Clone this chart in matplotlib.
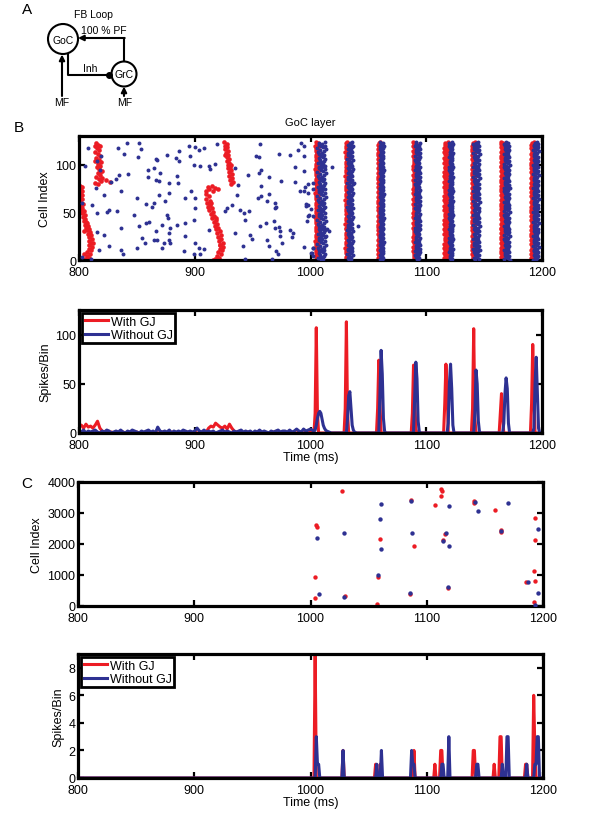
import numpy as np
import matplotlib.pyplot as plt
import matplotlib.patches as mp

plt.rcParams['font.family'] = ['Liberation Sans', 'DejaVu Sans']

RED = '#ec1c24'
BLUE = '#2e3192'

# ---------------- panel B raster : GoC layer ----------------
# with GJ (red) travelling waves before 1000 ms
b_red_t = [800.5, 802.5, 801.0, 803.0, 800.8, 802.2, 800.5, 802.8, 801.0, 803.5, 801.5, 803.0,
           802.0, 804.5, 802.5, 805.0, 803.5, 805.5, 804.0, 806.5, 805.0, 807.5, 806.0, 808.5,
           807.0, 809.5, 808.0, 810.5, 809.0, 811.0, 808.5, 810.5, 809.0, 811.5, 808.5, 810.5,
           807.0, 809.5, 806.5, 808.5, 805.5, 807.5, 804.0, 806.0, 803.0, 812.0, 804.5,
           814.5, 816.5, 813.5, 815.5, 817.5, 814.0, 816.0, 818.0, 815.0, 817.0, 819.0, 816.0,
           818.5, 815.5, 817.5, 819.5, 816.0, 818.0, 815.0, 817.0, 819.0, 813.5, 816.0, 823.0,
           827.0, 820.0, 818.0, 814.0, 818.5,
           911.5, 914.5, 917.5, 920.0, 912.5, 910.0, 915.5, 909.5, 912.0, 910.0, 913.0, 910.5,
           913.5, 911.5, 914.5, 912.5, 915.5, 914.0, 916.5, 915.0, 918.0, 916.5, 919.0, 917.5,
           920.0, 918.5, 921.5, 919.5, 922.5, 920.5, 923.0, 921.0, 924.0, 921.5, 924.5, 922.0,
           923.5, 920.5, 922.5, 919.0, 921.0, 917.5, 919.5, 916.0, 918.0, 914.0, 922.0,
           925.5, 927.5, 926.0, 928.0, 926.5, 928.5, 927.0, 929.0, 927.5, 929.5, 928.0, 930.0,
           928.5, 930.5, 929.0, 931.0, 929.5, 932.0, 930.0, 932.5, 930.5, 933.0, 931.0, 926.5,
           931.5]
b_red_c = [78, 77, 74, 72, 70, 68, 66, 64, 61, 59, 57, 55,
           53, 51, 49, 47, 45, 43, 41, 39, 37, 36, 34, 33,
           31, 29, 27, 26, 24, 22, 20, 18, 16, 14, 12, 10,
           8, 6, 4, 2, 1, 0, 30, 40, 50, 18, 6,
           123, 121, 119, 117, 115, 113, 111, 109, 107, 105, 103, 101,
           99, 97, 95, 93, 91, 89, 87, 85, 83, 81, 80, 84,
           82, 86, 120, 104, 92,
           77, 78, 76, 74, 74, 72, 72, 69, 67, 64, 62, 60,
           58, 56, 54, 52, 50, 48, 46, 44, 42, 40, 38, 36,
           34, 32, 30, 28, 26, 24, 22, 20, 18, 16, 14, 12,
           10, 8, 6, 4, 2, 1, 0, 0, 44, 60, 16,
           124, 122, 120, 118, 116, 114, 112, 110, 108, 106, 104, 102,
           100, 98, 96, 94, 92, 90, 88, 86, 84, 82, 80, 110,
           100]

# without GJ (blue) asynchronous spikes
b_blue_t = [808.1, 833.6, 841.7, 851.7, 853.2, 838.8, 850.9, 866.1, 805.2, 818.7, 815.3, 817.9,
            827.9, 834.5, 842.3, 831.6, 859.5, 865.2, 859.8, 835.9, 814.4, 821.6, 811.6, 850.3,
            858.3, 864.6, 863.2, 825.9, 823.9, 832.5, 815.9, 847.4, 802.9, 835.9, 851.7, 857.5,
            860.9, 815.9, 821.6, 854.6, 856.6, 864.6, 817.3, 825.9, 835.9, 838.2, 850.3, 802.4,
            810.1,
            867.5, 876.1, 886.2, 894.8, 900.0, 907.7, 903.4, 886.2, 896.2, 883.9, 899.1, 904.8,
            912.0, 917.8, 919.2, 913.5, 870.4, 869.0, 884.8, 885.6, 877.6, 866.1, 897.1, 877.6,
            869.0, 891.9, 900.5, 874.7, 900.5, 926.4, 927.8, 876.1, 877.0, 871.8, 891.9, 884.8,
            879.0, 899.1, 912.0, 877.6, 891.4, 877.6, 873.3, 879.0, 867.5, 900.5, 907.7, 903.4,
            871.8, 890.5, 899.1, 904.8, 935.0, 935.0, 936.4, 932.1, 866.1,
            956.6, 952.9, 955.8, 972.4, 982.5, 989.6, 994.0, 994.0, 957.5, 955.2, 946.0, 963.8,
            974.4, 986.2, 994.5, 986.8, 937.4, 957.5, 995.4, 1002.5, 954.6, 957.5, 963.8,
            991.1, 998.2, 962.4, 969.5, 970.4, 969.0, 996.0, 998.2, 939.4, 942.3, 947.2, 943.7,
            968.1, 956.6, 961.5, 998.2, 996.8, 1002.5, 948.0, 949.5, 969.0, 972.4, 973.8,
            982.5, 985.3, 983.9, 962.4, 973.3, 975.3, 941.4, 963.8, 970.1, 971.8, 966.7, 994.8,
            1002.5, 1001.1, 1002.5, 943.7,
            1018.4, 1014.4, 1015.6, 1013.0, 1041.0, 1038.0, 992.0, 994.8, 997.7, 1002.0, 996.0,
            999.0, 1000.6, 1002.0, 1000.6]
b_blue_c = [117.6, 116.9, 122.8, 122.8, 116.5, 111.6, 108.1, 106.0, 99.0, 108.8, 103.5, 94.8,
            81.5, 88.9, 89.9, 85.0, 94.1, 96.5, 87.1, 72.8, 75.5, 67.8, 58.0, 65.1,
            59.1, 59.8, 55.6, 52.1, 50.4, 51.4, 49.3, 47.6, 59.8, 33.6, 35.3, 38.8,
            39.5, 29.0, 26.6, 23.1, 17.8, 21.3, 10.8, 14.3, 10.1, 6.6, 12.6, 3.1,
            1.0,
            105.3, 110.5, 114.0, 120.0, 118.6, 117.5, 115.1, 103.5, 108.8, 107.1, 99.4, 98.3,
            98.3, 100.7, 121.1, 95.5, 91.3, 82.6, 87.8, 80.8, 80.8, 84.3, 72.1, 70.3,
            68.6, 65.1, 65.1, 61.6, 54.6, 51.1, 54.6, 47.6, 44.1, 37.1, 38.8, 37.1,
            33.6, 42.3, 31.8, 28.3, 24.8, 21.3, 17.8, 17.8, 20.6, 17.8, 11.9, 12.6,
            12.6, 9.1, 6.6, 6.6, 28.3, 96.5, 68.6, 58.0, 30.0,
            121.8, 108.8, 107.8, 111.6, 110.6, 115.8, 119.3, 109.5, 94.8, 91.3, 89.6, 86.8,
            82.6, 97.1, 93.0, 81.5, 79.1, 78.0, 76.6, 80.8, 65.1, 66.8, 69.6,
            72.1, 70.3, 61.6, 59.8, 55.6, 54.6, 58.7, 58.0, 52.8, 49.3, 51.1, 42.3,
            40.6, 35.3, 38.8, 45.8, 41.3, 46.5, 26.6, 22.0, 33.6, 34.3, 30.0,
            31.8, 28.3, 24.1, 21.3, 24.8, 17.8, 14.3, 14.3, 9.1, 6.6, 1.0, 13.6,
            12.6, 7.3, 3.8, 1.0,
            97.0, 33.0, 30.5, 25.0, 36.0, 81.0, 123.0, 72.6, 79.6, 74.0, 57.0,
            47.0, 53.0, 13.0, 7.7]

# synchronous volleys after 1000 ms: centre time and half spread (ms)
red_band_t = [1005.5, 1031.6, 1059.4, 1090.0, 1117.0, 1140.7, 1165.7, 1191.7]
red_band_w = [1.3, 1.4, 1.3, 1.5, 1.8, 1.3, 1.5, 1.5]
blue_band_t = [1009.5, 1034.2, 1061.4, 1092.4, 1121.3, 1143.2, 1169.5, 1194.6]
blue_band_w = [3.6, 2.4, 1.7, 2.4, 1.7, 2.9, 2.5, 2.4]
band_jitter = [0.1, -0.6, 0.8, -0.2, 0.4, -0.9, 0.0, 0.6, -0.4, 0.9, -0.7, 0.3, -0.1,
               0.7, -0.5, 0.2, -0.8, 0.5, -0.3, 1.0, -1.0, 0.4, -0.2, 0.8, -0.6]
n_goc = 125

# ---------------- panel B histogram ----------------
noise_t = np.arange(800, 1001, 2)
b_red_noise = [7, 8, 5, 9, 6, 7, 5, 8, 12, 5, 2,
               1, 2, 0, 1, 0, 1, 0, 0, 1, 0, 0, 1, 0, 0, 1, 0, 0, 0, 1, 0,
               0, 0, 1, 0, 0, 1, 0, 0, 0, 1, 0, 0, 1, 0, 0, 0, 1, 0, 0, 1,
               0, 0, 1, 0, 1,
               5, 7, 6, 10, 8, 6, 5, 7, 4, 9, 5, 2, 1,
               0, 1, 0, 0, 1, 0, 0, 0, 1, 0, 0, 1, 0, 0, 0, 1, 0, 0, 0, 1,
               0, 0, 1, 0, 0, 0, 1, 0, 0, 1, 0, 1]
b_blue_noise = [2, 1, 3, 0, 2, 1, 2, 3, 1, 0, 2, 1, 3, 2, 0, 1, 2, 1, 3, 1,
                0, 2, 1, 3, 2, 1, 0, 2, 1, 2, 3, 1, 2, 0, 6, 2, 1, 2, 1, 3,
                0, 2, 1, 2, 1, 3, 2, 1, 2, 1, 2, 5, 2, 1, 3, 1, 2, 1, 2, 0,
                1, 2, 3, 1, 2, 1, 0, 2, 1, 2, 3, 1, 2, 1, 2, 0, 2, 1, 3, 1,
                2, 1, 0, 2, 1, 2, 3, 1, 2, 2, 1, 3, 1, 2, 4, 2, 1, 4, 2, 3, 4]
b_red_pk_t = [1003, 1004, 1005, 1006, 1007, 1029, 1030, 1031, 1032, 1033,
              1057, 1058, 1059, 1060, 1061, 1087, 1088, 1089, 1090, 1091, 1092,
              1115, 1116, 1117, 1118, 1119, 1139, 1140, 1141, 1142, 1143,
              1163, 1164, 1165, 1166, 1167, 1190, 1191, 1192, 1193, 1194, 1200]
b_red_pk_n = [0, 20, 107, 20, 0, 0, 25, 113, 20, 0,
              0, 25, 74, 30, 0, 0, 20, 69, 35, 4, 0,
              0, 30, 70, 45, 0, 0, 25, 106, 15, 0,
              0, 20, 40, 15, 0, 0, 30, 90, 40, 0, 0]
b_blue_pk_t = [1003, 1004, 1005, 1006, 1007, 1008, 1009, 1010, 1011, 1012, 1013, 1014, 1016, 1018,
               1031, 1032, 1033, 1034, 1035, 1036, 1037, 1038, 1040,
               1059, 1060, 1061, 1062, 1063, 1064, 1065,
               1089, 1090, 1091, 1092, 1093, 1094, 1095,
               1118, 1119, 1120, 1121, 1122, 1123, 1124,
               1141, 1142, 1143, 1144, 1145, 1146, 1147,
               1166, 1167, 1168, 1169, 1170, 1171, 1172,
               1192, 1193, 1194, 1195, 1196, 1197, 1198, 1200]
b_blue_pk_n = [2, 3, 8, 15, 20, 22, 20, 14, 8, 5, 3, 2, 1, 0,
               0, 15, 38, 42, 25, 8, 3, 1, 0,
               0, 40, 84, 60, 15, 2, 0,
               0, 35, 72, 55, 12, 1, 0,
               0, 10, 50, 70, 45, 8, 0,
               0, 20, 64, 50, 12, 1, 0,
               0, 10, 40, 56, 45, 10, 0,
               0, 5, 50, 77, 40, 5, 0, 0]

# ---------------- panel C raster : GrC layer ----------------
c_red_t = [1005.0, 1005.4, 1004.0, 1004.0, 1027.5, 1029.5, 1060.0, 1057.8, 1057.0, 1086.5,
           1089.0, 1086.0, 1112.4, 1113.2, 1112.0, 1107.0, 1116.0, 1113.6, 1118.5, 1141.0,
           1140.8, 1158.7, 1164.0, 1192.8, 1192.8, 1192.0, 1185.5, 1192.8, 1192.0, 1163.8]
c_red_c = [2600, 2560, 920, 270, 3710, 320, 2150, 930, 60, 3410,
           1950, 400, 3770, 3720, 3540, 3250, 2330, 2140, 570, 3380,
           3330, 3090, 2380, 2830, 2120, 1130, 780, 800, 140, 2440]
c_blue_t = [1005.2, 1007.0, 1028.6, 1028.6, 1060.7, 1060.0, 1060.7, 1057.8, 1086.7, 1087.0,
            1086.0, 1119.0, 1116.2, 1113.8, 1119.0, 1118.5, 1141.8, 1144.5, 1169.7, 1164.2,
            1195.7, 1187.5, 1195.7, 1192.8]
c_blue_c = [2200, 380, 2340, 290, 3280, 2810, 1840, 1000, 3400, 2370,
            430, 3240, 2360, 2110, 1940, 610, 3370, 3060, 3320, 2430,
            2480, 780, 430, 30]

# ---------------- panel C histogram ----------------
c_red_h_t = [800, 1003, 1004, 1005, 1027, 1028, 1029, 1055, 1056, 1057, 1059, 1060, 1061,
             1088, 1089, 1090, 1106, 1107, 1108, 1111, 1112, 1113, 1114,
             1139, 1140, 1141, 1142, 1157, 1158, 1159, 1162, 1163, 1164, 1165,
             1184, 1185, 1186, 1187, 1191, 1192, 1193, 1194, 1200]
c_red_h_n = [0, 0, 9, 0, 0, 2, 0, 0, 1, 0, 0, 1, 0,
             0, 2, 0, 0, 1, 0, 0, 2, 2, 0,
             0, 2, 2, 0, 0, 1, 0, 0, 3, 3, 0,
             0, 1, 1, 0, 0, 6, 2, 0, 0]
c_blue_h_t = [800, 1004, 1005, 1006, 1007, 1008, 1027, 1028, 1029, 1056, 1057, 1058,
              1060, 1061, 1062, 1086, 1087, 1088, 1089, 1090, 1112, 1113, 1114, 1115,
              1118, 1119, 1120, 1142, 1143, 1144, 1145, 1164, 1165, 1166,
              1168, 1169, 1170, 1171, 1185, 1186, 1187,
              1192, 1193, 1194, 1195, 1196, 1197, 1200]
c_blue_h_n = [0, 0, 3, 1, 1, 0, 0, 2, 0, 0, 1, 0,
              0, 2, 0, 0, 2, 1, 1, 0, 0, 1, 1, 0,
              0, 3, 0, 0, 1, 1, 0, 0, 1, 0,
              0, 3, 3, 0, 0, 1, 0,
              0, 1, 1, 3, 3, 0, 0]

x_ticks = [800, 900, 1000, 1100, 1200]
FS = 9


def style(ax, yticks, ylim):
    for s in ax.spines.values():
        s.set_linewidth(2.3)
    ax.set_xlim(800, 1200)
    ax.set_ylim(*ylim)
    ax.set_xticks(x_ticks)
    ax.set_yticks(yticks)
    ax.tick_params(direction='in', top=True, right=True, length=4, width=1.6,
                   labelsize=FS)
    ax.tick_params(axis='x', pad=4.5)
    ax.tick_params(axis='y', pad=2)


def legend(ax):
    leg = ax.legend(loc='upper left', fontsize=FS, fancybox=False, edgecolor='k',
                    framealpha=1, borderaxespad=0.25, borderpad=0.2, labelspacing=0.1,
                    handlelength=1.9, handletextpad=0.2)
    leg.get_frame().set_linewidth(2.0)


fig = plt.figure(figsize=(6, 8.2), dpi=100)

# ---- A : circuit sketch, drawn in pixel units ----
ov = fig.add_axes([0, 0, 1, 1], zorder=-1)
ov.set_xlim(0, 600)
ov.set_ylim(820, 0)
ov.axis('off')
ov.add_patch(mp.Circle((63, 40), 15, fill=False, lw=1.5, ec='k'))
ov.add_patch(mp.Circle((124, 75), 12.5, fill=False, lw=1.5, ec='k'))
ov.text(63, 40.5, 'GoC', ha='center', va='center', fontsize=7.5)
ov.text(124, 75.5, 'GrC', ha='center', va='center', fontsize=7.5)
ov.plot([124, 124], [62.5, 39], color='k', lw=1.5, solid_capstyle='butt')
ov.annotate('', xy=(78, 39), xytext=(124.7, 39),
            arrowprops=dict(arrowstyle='-|>', lw=1.5, color='k', mutation_scale=8,
                            shrinkA=0, shrinkB=0))
ov.plot([68, 68, 110], [55, 76, 76], color='k', lw=1.5)
ov.plot(109, 76, 'o', color='k', ms=4)
ov.annotate('', xy=(62, 55.5), xytext=(62, 97),
            arrowprops=dict(arrowstyle='-|>', lw=1.5, color='k', mutation_scale=8,
                            shrinkA=0, shrinkB=0))
ov.annotate('', xy=(124, 87.5), xytext=(124, 97),
            arrowprops=dict(arrowstyle='-|>', lw=1.5, color='k', mutation_scale=8,
                            shrinkA=0, shrinkB=0))
ov.text(62, 103, 'MF', ha='center', va='center', fontsize=7.5)
ov.text(125, 103, 'MF', ha='center', va='center', fontsize=7.5)
ov.text(90, 69.5, 'Inh', ha='center', va='center', fontsize=7.5)
ov.text(104, 31.5, '100 % PF', ha='center', va='center', fontsize=7.5)
ov.text(93, 15, 'FB Loop', ha='center', va='center', fontsize=7.5)

fig.text(27 / 600, 1 - 10 / 820, 'A', ha='center', va='center', fontsize=11)
fig.text(19 / 600, 1 - 128 / 820, 'B', ha='center', va='center', fontsize=11)
fig.text(27 / 600, 1 - 484 / 820, 'C', ha='center', va='center', fontsize=11)

# ---- B raster ----
ax1 = fig.add_axes([79 / 600, 1 - 261 / 820, 463 / 600, 124 / 820])
cells = np.arange(n_goc)
ax1.scatter(b_red_t, b_red_c, s=11, color=RED, linewidths=0, zorder=2)
for k, (t0, w) in enumerate(zip(red_band_t, red_band_w)):
    jit = np.array([band_jitter[(i + 7 * k) % len(band_jitter)] for i in cells])
    ax1.scatter(t0 + w * jit, cells, s=10, color=RED, linewidths=0, zorder=2)
ax1.scatter(b_blue_t, b_blue_c, s=8, color=BLUE, linewidths=0, zorder=3)
for k, (t0, w) in enumerate(zip(blue_band_t, blue_band_w)):
    jit = np.array([band_jitter[(i + 11 * k + 3) % len(band_jitter)] for i in cells])
    ax1.scatter(t0 + w * jit, cells, s=8, color=BLUE, linewidths=0, zorder=3)
style(ax1, [0, 50, 100], (0, 130))
ax1.set_ylabel('Cell Index', fontsize=FS, labelpad=3)
ax1.set_title('GoC layer', fontsize=8, pad=8)

# ---- B histogram ----
ax2 = fig.add_axes([79 / 600, 1 - 434 / 820, 463 / 600, 123 / 820])
ax2.plot(list(noise_t) + b_red_pk_t, b_red_noise + b_red_pk_n, color=RED, lw=2.2,
         label='With GJ')
ax2.plot(list(noise_t) + b_blue_pk_t, b_blue_noise + b_blue_pk_n, color=BLUE, lw=2.2,
         label='Without GJ')
style(ax2, [0, 50, 100], (0, 125))
ax2.set_ylabel('Spikes/Bin', fontsize=FS, labelpad=3)
ax2.set_xlabel('Time (ms)', fontsize=FS, labelpad=0)
legend(ax2)

# ---- C raster ----
ax3 = fig.add_axes([78 / 600, 1 - 607 / 820, 465 / 600, 124 / 820])
ax3.scatter(c_red_t, c_red_c, s=10, color=RED, linewidths=0, zorder=2)
ax3.scatter(c_blue_t, c_blue_c, s=10, color=BLUE, linewidths=0, zorder=3)
style(ax3, [0, 1000, 2000, 3000, 4000], (0, 4000))
ax3.set_ylabel('Cell Index', fontsize=FS, labelpad=3)

# ---- C histogram ----
ax4 = fig.add_axes([78 / 600, 1 - 779 / 820, 465 / 600, 124 / 820])
ax4.plot(c_red_h_t, c_red_h_n, color=RED, lw=2.2, label='With GJ')
ax4.plot(c_blue_h_t, c_blue_h_n, color=BLUE, lw=2.2, label='Without GJ')
style(ax4, [0, 2, 4, 6, 8], (0, 9))
ax4.set_ylabel('Spikes/Bin', fontsize=FS, labelpad=3)
ax4.set_xlabel('Time (ms)', fontsize=FS, labelpad=0)
legend(ax4)

fig.savefig('out.png', dpi=100)
